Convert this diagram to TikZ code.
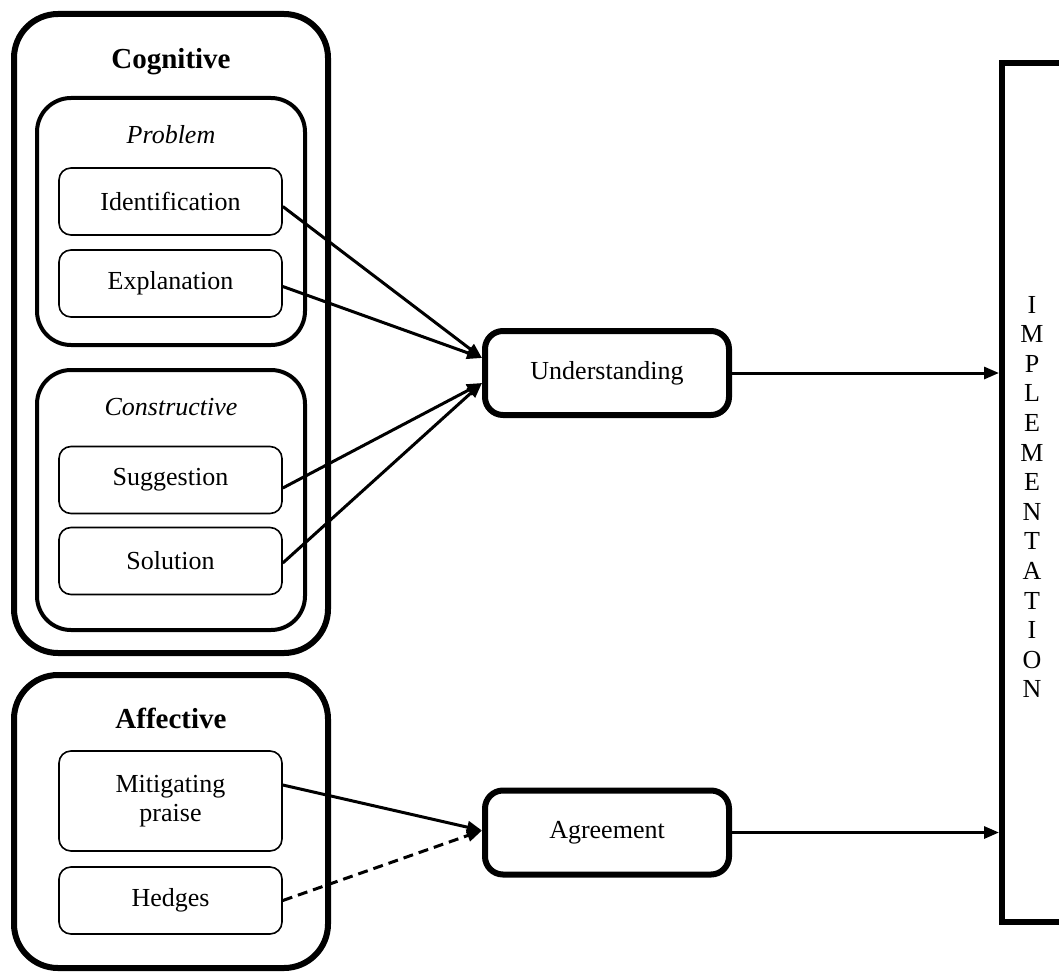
\documentclass[tikz,border=0pt]{standalone}
\usepackage{fontspec}
\setmainfont{Liberation Serif}
\usetikzlibrary{arrows.meta}

\tikzset{
  groupbox/.style={draw, line width=3pt, rounded corners=22pt, inner sep=0pt, minimum width=157pt},
  subbox/.style={draw, line width=2pt, rounded corners=17pt, inner sep=0pt, minimum width=134pt},
  itembox/.style={draw, line width=0.8pt, rounded corners=6pt, minimum width=111.5pt, minimum height=33.5pt,
    align=center, font=\fontsize{13}{14.5}\selectfont},
  resultbox/.style={draw, line width=3pt, rounded corners=9pt, minimum width=122pt, minimum height=42pt,
    font=\fontsize{13}{14.5}\selectfont},
  grouptitle/.style={font=\fontsize{14.5}{16}\selectfont\bfseries},
  subtitle/.style={font=\fontsize{13}{14.5}\selectfont\itshape},
  link/.style={line width=1.5pt, -{Triangle[length=7.5pt,width=6pt]}},
}

\begin{document}
\begin{tikzpicture}[x=0.5pt, y=-0.5pt]
      \clip (0,0) rectangle (1059,979);

      \node[groupbox, minimum height=319.5pt] (cognitive) at (171,333.5) {};
      \node[grouptitle] (cogtitle) at (171,62) {Cognitive};
      \node[subbox, minimum height=123.5pt] (problem) at (171,221.5) {};
      \node[subtitle] (probtitle) at (171,135) {Problem};
      \node[itembox] (ident) at (170.5,201.5) {Identification};
      \node[itembox] (expl) at (170.5,283.5) {Explanation};
      \node[subbox, minimum height=130pt] (constructive) at (171,500) {};
      \node[subtitle] (constitle) at (171,407) {Constructive};
      \node[itembox] (sugg) at (170.5,480) {Suggestion};
      \node[itembox] (sol) at (170.5,561) {Solution};

      \node[groupbox, minimum height=146.5pt] (affective) at (171,821.5) {};
      \node[grouptitle] (afftitle) at (171,718) {Affective};
      \node[itembox, minimum height=50pt] (praise) at (170.5,801) {Mitigating\\praise};
      \node[itembox] (hedges) at (170.5,900.5) {Hedges};

      \node[resultbox] (und) at (607,373) {Understanding};
      \node[resultbox] (agr) at (607,832.5) {Agreement};

      \node[draw, line width=3pt, inner sep=0pt, minimum width=100pt, minimum height=429.5pt] (impl) at (1102,492.5) {};
      \node[align=center, font=\fontsize{13}{14.8}\selectfont] (impltext) at (1032,497)
        {I\\M\\P\\L\\E\\M\\E\\N\\T\\A\\T\\I\\O\\N};

      \draw[link] ([yshift=-2.5pt]ident.east) -- ([yshift=7.5pt]und.west);
      \draw[link] ([yshift=-1.5pt]expl.east) -- ([yshift=7.5pt]und.west);
      \draw[link] ([yshift=-4pt]sugg.east) -- ([yshift=-5pt]und.west);
      \draw[link] ([yshift=-1pt]sol.east) -- ([yshift=-5pt]und.west);
      \draw[link] ([yshift=8pt]praise.east) -- ([yshift=1pt]agr.west);
      \draw[link, dash pattern=on 5pt off 3pt] (hedges.east) -- ([yshift=1pt]agr.west);

      \draw[link] (und.east) -- (und.east -| impl.west);
      \draw[link] (agr.east) -- (agr.east -| impl.west);

    \end{tikzpicture}
\end{document}
